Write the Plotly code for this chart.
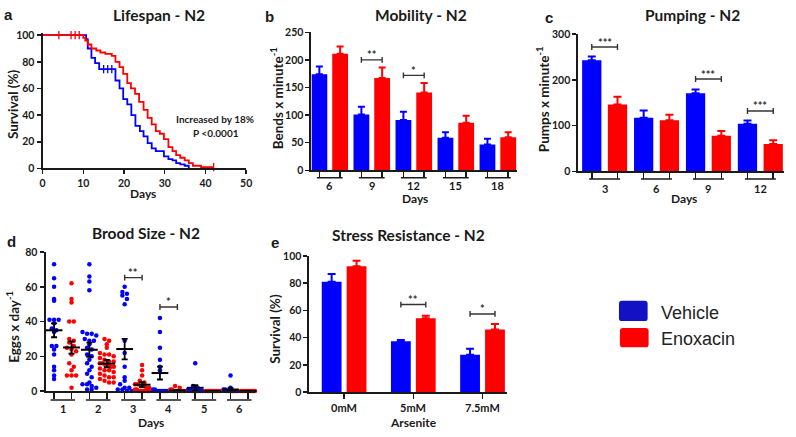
import numpy as np
import plotly.graph_objects as go

W, H = 796, 437
BLUE = '#0000FF'
RED = '#FF0000'
INK = '#1a1a1a'
FONT = 'Lato'

# ---------------- data ----------------
# (a) Lifespan - Kaplan-Meier steps (day, % surviving)
life_vehicle_day = [0, 10.7, 11.1, 12, 12.9, 13.9, 17.9, 18.9, 19.8, 20.8, 21.8, 22.8, 23.9, 24.8,
                    25.8, 26.8, 27.8, 29.8, 30.9, 31.9, 32.8, 33.8, 34.9, 35.9]
life_vehicle_surv = [100, 97, 90, 83, 79, 74.5, 66, 60, 52, 48, 40, 32, 28, 24,
                     19, 15, 13, 9, 7, 6, 4, 3, 2, 0]
life_vehicle_censor = [15, 16, 17]
life_enox_day = [0, 10, 10.5, 11.1, 12, 13.2, 14.2, 15.4, 17, 17.9, 18.9, 19.8, 20.8, 21.7, 22.7,
                 23.7, 24.8, 25.8, 26.8, 27.8, 28.8, 29.8, 30.9, 31.9, 32.8, 33.8, 34.9, 35.9,
                 36.9, 38.9, 42]
life_enox_surv = [100, 98, 96, 93, 90, 88.5, 87, 86, 84.5, 80, 76, 71, 64, 60, 56,
                  50, 44, 38, 33, 28, 26, 22, 16, 13, 10, 8, 6, 4, 2, 1, 1]
life_enox_censor = [4, 7, 8, 9, 42]
life_xticks = [0, 10, 20, 30, 40, 50]
life_yticks = [0, 20, 40, 60, 80, 100]
life_note = ['Increased by 18%', 'P <0.0001']

# (b) Mobility
mob_days = ['6', '9', '12', '15', '18']
mob_vehicle = [174, 101, 91, 59, 47]
mob_vehicle_err = [14, 14, 15, 10, 10]
mob_enox = [211, 167, 141, 86, 60]
mob_enox_err = [13, 19, 17, 13, 9]
mob_sig = {1: '**', 2: '*'}

# (c) Pumping
pump_days = ['3', '6', '9', '12']
pump_vehicle = [243, 117, 171, 104]
pump_vehicle_err = [8, 16, 8, 7]
pump_enox = [146, 112, 78, 60]
pump_enox_err = [17, 12, 10, 8]
pump_sig = {0: '***', 2: '***', 3: '***'}

# (d) Brood size - eggs per day per worm
brood_days = ['1', '2', '3', '4', '5', '6']
brood_vehicle = [
    [73, 65, 60, 53, 52, 41, 41, 41, 39, 36, 35, 34, 26, 26, 24, 21, 14, 12, 9, 7],
    [73, 66, 63, 58, 34, 33, 33, 32, 30, 29, 29, 27, 25, 24, 21, 20, 18, 16, 14, 12, 10, 8, 5, 4, 4, 3, 2, 1, 1],
    [60, 57, 56, 55, 53, 50, 29, 22, 14, 8, 6, 4, 2, 2, 1, 1, 0, 0],
    [42, 34, 25, 18, 14, 12, 1, 1, 0, 0, 0, 0, 0, 0],
    [16, 3, 2, 1, 1, 0, 0, 0, 0, 0, 0],
    [9, 2, 1, 1, 0, 0, 0, 0, 0, 0, 0],
]
brood_enox = [
    [62, 53, 51, 40, 40, 30, 29, 28, 26, 25, 24, 23, 21, 16, 14, 12, 9, 9, 9, 2],
    [30, 29, 27, 25, 22, 21, 21, 20, 19, 18, 17, 17, 16, 16, 15, 15, 14, 14, 13, 12, 12, 11, 10, 9, 8, 8, 7, 6, 5, 5],
    [15, 12, 9, 6, 5, 4, 4, 3, 3, 2, 2, 1, 1, 0, 0, 0, 0, 0, 0, 0],
    [3, 2, 1, 1, 0, 0, 0, 0, 0, 0, 0, 0],
    [0, 0, 0, 0, 0, 0, 0, 0, 0, 0],
    [0, 0, 0, 0, 0, 0, 0, 0, 0, 0],
]
brood_vehicle_mean = [35, 23.8, 24.2, 10.4, 1.9, 0.9]
brood_vehicle_sem = [4.0, 4.1, 5.9, 3.7, 1.6, 0.8]
brood_enox_mean = [25.1, 15.8, 3.7, 0.4, 0, 0]
brood_enox_sem = [3.5, 2.1, 1.4, 0.3, 0, 0]
brood_sig = {2: '**', 3: '*'}

# (e) Stress resistance
ars_conc = ['0mM', '5mM', '7.5mM']
sr_vehicle = [81, 37.4, 27.4]
sr_vehicle_err = [5.7, 0.9, 4.5]
sr_enox = [92.4, 54.3, 46]
sr_enox_err = [4, 1.7, 4]
sr_sig = {1: '**', 2: '*'}

legend_names = ['Vehicle', 'Enoxacin']

# ---------------- layout helpers ----------------
def dom_x(a, b):
    return [a / W, b / W]

def dom_y(top, bot):
    return [1 - bot / H, 1 - top / H]

def PX(x):
    return x / W

def PY(y):
    return 1 - y / H

tickfont = dict(family=FONT, size=10.5, color=INK, weight='bold')

def axstyle(**kw):
    d = dict(showline=True, linecolor=INK, linewidth=2, ticks='outside', ticklen=4,
             tickwidth=1.5, tickcolor=INK, showgrid=False, zeroline=False,
             tickfont=tickfont, fixedrange=True)
    d.update(kw)
    return d

shapes = []
anns = []

def add_line(xref, yref, x0, y0, x1, y1, color=INK, width=1.5):
    shapes.append(dict(type='line', xref=xref, yref=yref, x0=x0, y0=y0, x1=x1, y1=y1,
                       line=dict(color=color, width=width), layer='above'))

def add_text(x, y, s, size=10, xref='paper', yref='paper', angle=0, xanchor='center',
             yanchor='middle', color=INK, weight='bold', family=FONT, yshift=0):
    anns.append(dict(x=x, y=y, xref=xref, yref=yref, text=s, showarrow=False,
                     textangle=angle, xanchor=xanchor, yanchor=yanchor, yshift=yshift,
                     font=dict(family=family, size=size, color=color, weight=weight)))

fig = go.Figure()

# ---------------- (a) lifespan ----------------
def step_at(days, surv, t):
    idx = np.searchsorted(np.asarray(days), np.asarray(t, float), side='right') - 1
    return list(np.asarray(surv, float)[idx])

for days, surv, cens, col in [(life_vehicle_day, life_vehicle_surv, life_vehicle_censor, BLUE),
                              (life_enox_day, life_enox_surv, life_enox_censor, RED)]:
    fig.add_trace(go.Scatter(x=days, y=surv, mode='lines', xaxis='x', yaxis='y',
                             line=dict(color=col, width=1.8, shape='hv'), showlegend=False,
                             hoverinfo='skip'))
    fig.add_trace(go.Scatter(x=cens, y=step_at(days, surv, cens), mode='markers', xaxis='x',
                             yaxis='y', cliponaxis=False, showlegend=False, hoverinfo='skip',
                             marker=dict(symbol='line-ns', size=6, line=dict(color=col, width=1.3))))

# ---------------- grouped bar panels ----------------
def bar_panel(xa, ya, cats, v1, e1, v2, e2, off, width, cap):
    n = len(cats)
    xs1 = [i - off for i in range(n)]
    xs2 = [i + off for i in range(n)]
    for xs, v, e, col in [(xs1, v1, e1, BLUE), (xs2, v2, e2, RED)]:
        fig.add_trace(go.Bar(x=xs, y=v, width=width, xaxis=xa, yaxis=ya, marker_color=col,
                             marker_line_width=0, showlegend=False, hoverinfo='skip',
                             error_y=dict(type='data', array=e, arrayminus=[0] * n,
                                          symmetric=False, color=col, thickness=2, width=cap)))
    return xs1, xs2

b_x1, b_x2 = bar_panel('x2', 'y2', mob_days, mob_vehicle, mob_vehicle_err, mob_enox, mob_enox_err,
                       0.247, 0.376, 3.5)
c_x1, c_x2 = bar_panel('x3', 'y3', pump_days, pump_vehicle, pump_vehicle_err, pump_enox,
                       pump_enox_err, 0.248, 0.371, 4)
e_x1, e_x2 = bar_panel('x5', 'y5', ars_conc, sr_vehicle, sr_vehicle_err, sr_enox, sr_enox_err,
                       0.18, 0.286, 4)

# ---------------- (d) brood size scatter ----------------
def swarm(vals, bin_w, step, max_half):
    v = np.asarray(vals, float)
    off = np.zeros(len(v))
    keys = np.round(v / bin_w).astype(int)
    for k in np.unique(keys):
        idx = np.where(keys == k)[0]
        n = len(idx)
        if n == 1:
            continue
        s = min(step, 2 * max_half / (n - 1))
        off[idx] = (np.arange(n) - (n - 1) / 2) * s
    return off

d_off = 0.247
d_x1 = [i - d_off for i in range(len(brood_days))]
d_x2 = [i + d_off for i in range(len(brood_days))]
for groups, centers, col, means, sems in [(brood_vehicle, d_x1, BLUE, brood_vehicle_mean, brood_vehicle_sem),
                                           (brood_enox, d_x2, RED, brood_enox_mean, brood_enox_sem)]:
    xs, ys = [], []
    for c, vals in zip(centers, groups):
        o = swarm(vals, 3.0, 0.13, 0.2)
        xs += list(c + o)
        ys += list(vals)
    fig.add_trace(go.Scatter(x=xs, y=ys, mode='markers', xaxis='x4', yaxis='y4', cliponaxis=False,
                             marker=dict(color=col, size=4.5, line=dict(width=0)),
                             showlegend=False, hoverinfo='skip'))
    fig.add_trace(go.Scatter(x=centers, y=means, mode='markers', xaxis='x4', yaxis='y4',
                             cliponaxis=False, showlegend=False, hoverinfo='skip',
                             marker=dict(symbol='line-ew', size=12, line=dict(color='black', width=2)),
                             error_y=dict(type='data', array=sems, color='black', thickness=1.8,
                                          width=3)))

# ---------------- axes ----------------
P = {
    'a': dict(x=(40, 246), y=(27.26, 167)),
    'b': dict(x=(312, 520), y=(27, 169)),
    'c': dict(x=(582, 790), y=(29, 170)),
    'd': dict(x=(43, 255), y=(253, 396)),
    'e': dict(x=(310, 510), y=(257, 397)),
}
layout_axes = dict(
    xaxis=axstyle(domain=dom_x(*P['a']['x']), range=[0, 50], tickvals=life_xticks, anchor='y'),
    yaxis=axstyle(domain=dom_y(*P['a']['y']), range=[0, 102], tickvals=life_yticks, anchor='x'),
    xaxis2=axstyle(domain=dom_x(*P['b']['x']), range=[-0.435, 4.459], tickvals=b_x1 + b_x2,
                   showticklabels=False, ticklen=6, anchor='y2'),
    yaxis2=axstyle(domain=dom_y(*P['b']['y']), range=[0, 250], dtick=50, anchor='x2'),
    xaxis3=axstyle(domain=dom_x(*P['c']['x']), range=[-0.505, 3.457], tickvals=c_x1 + c_x2,
                   showticklabels=False, ticklen=6, anchor='y3'),
    yaxis3=axstyle(domain=dom_y(*P['c']['y']), range=[0, 300], dtick=100, anchor='x3'),
    xaxis4=axstyle(domain=dom_x(*P['d']['x']), range=[-0.49, 5.45], tickvals=d_x1 + d_x2,
                   showticklabels=False, ticklen=6, anchor='y4'),
    yaxis4=axstyle(domain=dom_y(*P['d']['y']), range=[0, 80], dtick=20, anchor='x4'),
    xaxis5=axstyle(domain=dom_x(*P['e']['x']), range=[-0.5, 2.357],
                   tickvals=list(range(len(ars_conc))), showticklabels=False, ticklen=5, anchor='y5'),
    yaxis5=axstyle(domain=dom_y(*P['e']['y']), range=[0, 100], dtick=20, anchor='x5'),
)

# group labels + underlines
def group_axis(xa, cats, off, line_y, label_y, ext, underline=True):
    for i, c in enumerate(cats):
        if underline:
            add_line(xa, 'paper', i - off - ext, PY(line_y), i + off + ext, PY(line_y), width=1.5)
        add_text(i, PY(label_y), c, size=11, xref=xa)

group_axis('x2', mob_days, 0.247, 176.5, 185, 0.06)
group_axis('x3', pump_days, 0.248, 178, 188, 0.05)
group_axis('x4', brood_days, d_off, 405, 414, 0.1)
group_axis('x5', ars_conc, 0.18, 0, 413, 0, underline=False)

# significance brackets
bracket_y = {
    'x2': {1: 200, 2: 172},
    'x3': {0: 272, 2: 202, 3: 132},
    'x4': {2: 65.3, 3: 48.4},
    'x5': {1: 64.3, 2: 57.4},
}
for xa, ya, sig, off, key in [('x2', 'y2', mob_sig, 0.247, 'b'), ('x3', 'y3', pump_sig, 0.248, 'c'),
                              ('x4', 'y4', brood_sig, d_off, 'd'), ('x5', 'y5', sr_sig, 0.18, 'e')]:
    rng = layout_axes['yaxis' + xa[1:]]['range']
    top, bot = P[key]['y']
    ppu = (bot - top) / (rng[1] - rng[0])
    d = 3 / ppu
    for g, lab in sig.items():
        yv = bracket_y[xa][g]
        x0, x1 = g - off, g + off
        add_line(xa, ya, x0, yv, x1, yv, color='#333333', width=1.4)
        add_line(xa, ya, x0, yv - d, x0, yv + d, color='#333333', width=1.4)
        add_line(xa, ya, x1, yv - d, x1, yv + d, color='#333333', width=1.4)
        add_text(g, yv, lab, size=11, xref=xa, yref=ya, color='#333333', yshift=5)

# titles, panel letters, axis titles
for (x, y, s) in [(158, 9, 'Lifespan - N2'), (423, 9, 'Mobility - N2'), (697, 9, 'Pumping - N2'),
                  (145, 233, 'Brood Size - N2'), (410, 235, 'Stress Resistance - N2')]:
    add_text(PX(x), PY(y), s, size=15.5)
for (x, y, s) in [(6, 9, 'a'), (270, 11, 'b'), (552, 12, 'c'), (9, 242, 'd'), (275, 243, 'e')]:
    add_text(PX(x), PY(y), s, size=15, family='Liberation Sans')
for (x, y, s) in [(10, 101, 'Survival (%)'), (278, 95, 'Bends x minute<sup>-1</sup>'),
                  (547, 96, 'Pumps x minute<sup>-1</sup>'), (10, 330, 'Eggs x day<sup>-1</sup>'),
                  (275, 332, 'Survival (%)')]:
    add_text(PX(x), PY(y), s, size=13.5, angle=-90)
for (x, y, s) in [(142, 193, 'Days'), (417, 198, 'Days'), (689, 198, 'Days'),
                  (150, 428, 'Days'), (415, 428, 'Arsenite')]:
    add_text(PX(x), PY(y), s, size=12)

add_text(PX(214), PY(116), life_note[0], size=10)
add_text(PX(215), PY(131), life_note[1], size=10)

# legend
def rrect(x0, y0, x1, y1, r):
    X = lambda v: v / W
    Y = lambda v: 1 - v / H
    return (f"M{X(x0 + r)},{Y(y0)} L{X(x1 - r)},{Y(y0)} Q{X(x1)},{Y(y0)} {X(x1)},{Y(y0 + r)} "
            f"L{X(x1)},{Y(y1 - r)} Q{X(x1)},{Y(y1)} {X(x1 - r)},{Y(y1)} L{X(x0 + r)},{Y(y1)} "
            f"Q{X(x0)},{Y(y1)} {X(x0)},{Y(y1 - r)} L{X(x0)},{Y(y0 + r)} Q{X(x0)},{Y(y0)} {X(x0 + r)},{Y(y0)} Z")

for (box, col, ty, name) in [((623, 303, 652, 324), '#1212C4', 316, legend_names[0]),
                             ((624, 331, 653, 351), RED, 342, legend_names[1])]:
    shapes.append(dict(type='path', xref='paper', yref='paper', path=rrect(*box, 3),
                       fillcolor=col, line=dict(width=0)))
    add_text(PX(663), PY(ty), name, size=18, xanchor='left', weight='normal',
             family='Liberation Sans', color='#222222')

fig.update_layout(
    width=W, height=H, margin=dict(l=0, r=0, t=0, b=0),
    paper_bgcolor='white', plot_bgcolor='white',
    barmode='overlay', showlegend=False, hovermode=False,
    shapes=shapes, annotations=anns,
    **layout_axes,
)

fig.write_html('out.html', config={'displayModeBar': False, 'staticPlot': True},
               post_script="document.body.style.margin='0px';")
